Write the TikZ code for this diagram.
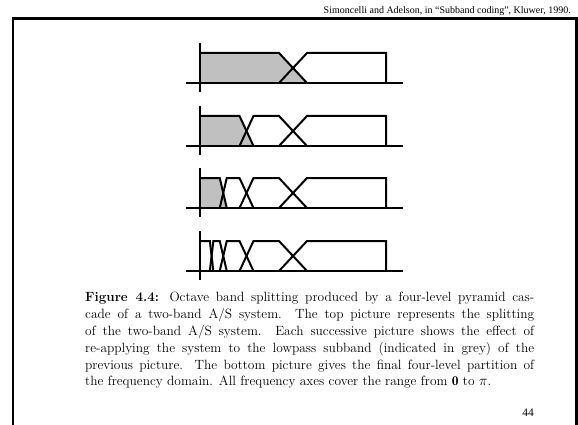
\documentclass[tikz,border=0pt]{standalone}
\usepackage{fontspec}
\newfontfamily\timesfont{Liberation Serif}
\begin{document}
\begin{tikzpicture}[x=1pt,y=-1pt,
  frameline/.style={line width=2.6pt},
  axisline/.style={line width=1.5pt},
  bandline/.style={line width=2pt, line join=miter},
  lowband/.style={fill=bandgrey},
  capline/.style={anchor=base west, inner sep=0pt, font=\fontsize{13.4}{16.8}\selectfont},
  header/.style={anchor=base east, inner sep=0pt, font=\timesfont\fontsize{10}{12}\selectfont},
  pagenum/.style={anchor=base, inner sep=0pt, font=\timesfont\fontsize{11.5}{13}\selectfont},
]
\definecolor{bandgrey}{RGB}{192,192,192}
\useasboundingbox (0,0) rectangle (578,425);
\fill[white] (0,0) rectangle (578,425);

% page frame and running header
\draw[frameline] (13,425) -- (13,18.5) -- (576.5,18.5) -- (576.5,425);
\node[header] (src) at (571,14) {Simoncelli and Adelson, in \char"201CSubband coding\char"201D, Kluwer, 1990.};

% level 1: split at pi/2
\begin{scope}[shift={(0,83)}]
  \fill[lowband] (200,0) -- (200,-30) -- (279,-30) -- (307,0) -- cycle;
  \draw[axisline] (186,0) -- (403,0);
  \draw[axisline] (200,9) -- (200,-40);
  \draw[bandline] (200,-30) -- (279,-30) -- (307,0);
  \draw[bandline] (279,0) -- (307,-30) -- (386,-30) -- (386,0);
\end{scope}

% level 2: lowpass split at pi/4
\begin{scope}[shift={(0,146)}]
  \fill[lowband] (200,0) -- (200,-30) -- (239.5,-30) -- (253.5,0) -- cycle;
  \draw[axisline] (186,0) -- (403,0);
  \draw[axisline] (200,9) -- (200,-40);
  \draw[bandline] (200,-30) -- (239.5,-30) -- (253.5,0);
  \draw[bandline] (239.5,0) -- (253.5,-30) -- (279,-30) -- (307,0);
  \draw[bandline] (279,0) -- (307,-30) -- (386,-30) -- (386,0);
\end{scope}

% level 3: split at pi/8
\begin{scope}[shift={(0,208)}]
  \fill[lowband] (200,0) -- (200,-30) -- (219.75,-30) -- (226.75,0) -- cycle;
  \draw[axisline] (186,0) -- (403,0);
  \draw[axisline] (200,9) -- (200,-40);
  \draw[bandline] (200,-30) -- (219.75,-30) -- (226.75,0);
  \draw[bandline] (219.75,0) -- (226.75,-30) -- (239.5,-30) -- (253.5,0);
  \draw[bandline] (239.5,0) -- (253.5,-30) -- (279,-30) -- (307,0);
  \draw[bandline] (279,0) -- (307,-30) -- (386,-30) -- (386,0);
\end{scope}

% level 4: split at pi/16, final partition
\begin{scope}[shift={(0,271)}]
  \draw[axisline] (186,0) -- (403,0);
  \draw[axisline] (200,9) -- (200,-40);
  \draw[bandline] (200,-30) -- (209.85,-30) -- (213.35,0);
  \draw[bandline] (209.85,0) -- (213.35,-30) -- (219.75,-30) -- (226.75,0);
  \draw[bandline] (219.75,0) -- (226.75,-30) -- (239.5,-30) -- (253.5,0);
  \draw[bandline] (239.5,0) -- (253.5,-30) -- (279,-30) -- (307,0);
  \draw[bandline] (279,0) -- (307,-30) -- (386,-30) -- (386,0);
\end{scope}

% caption
\node[capline] (cap1) at (85,301) {\makebox[449pt][s]{\textbf{Figure 4.4:} Octave band splitting produced by a four-level pyramid cas-}};
\node[capline] (cap2) at (85,318) {\makebox[449pt][s]{cade of a two-band A/S system. The top picture represents the splitting}};
\node[capline] (cap3) at (85,335) {\makebox[449pt][s]{of the two-band A/S system. Each successive picture shows the effect of}};
\node[capline] (cap4) at (85,352) {\makebox[449pt][s]{re-applying the system to the lowpass subband (indicated in grey) of the}};
\node[capline] (cap5) at (85,369) {\makebox[449pt][s]{previous picture. The bottom picture gives the final four-level partition of}};
\node[capline] (cap6) at (85,385.5) {the frequency domain. All frequency axes cover the range from $\mathbf{0}$ to $\pi$.};

% page number
\node[pagenum] (page) at (528,416) {44};
\end{tikzpicture}
\end{document}
